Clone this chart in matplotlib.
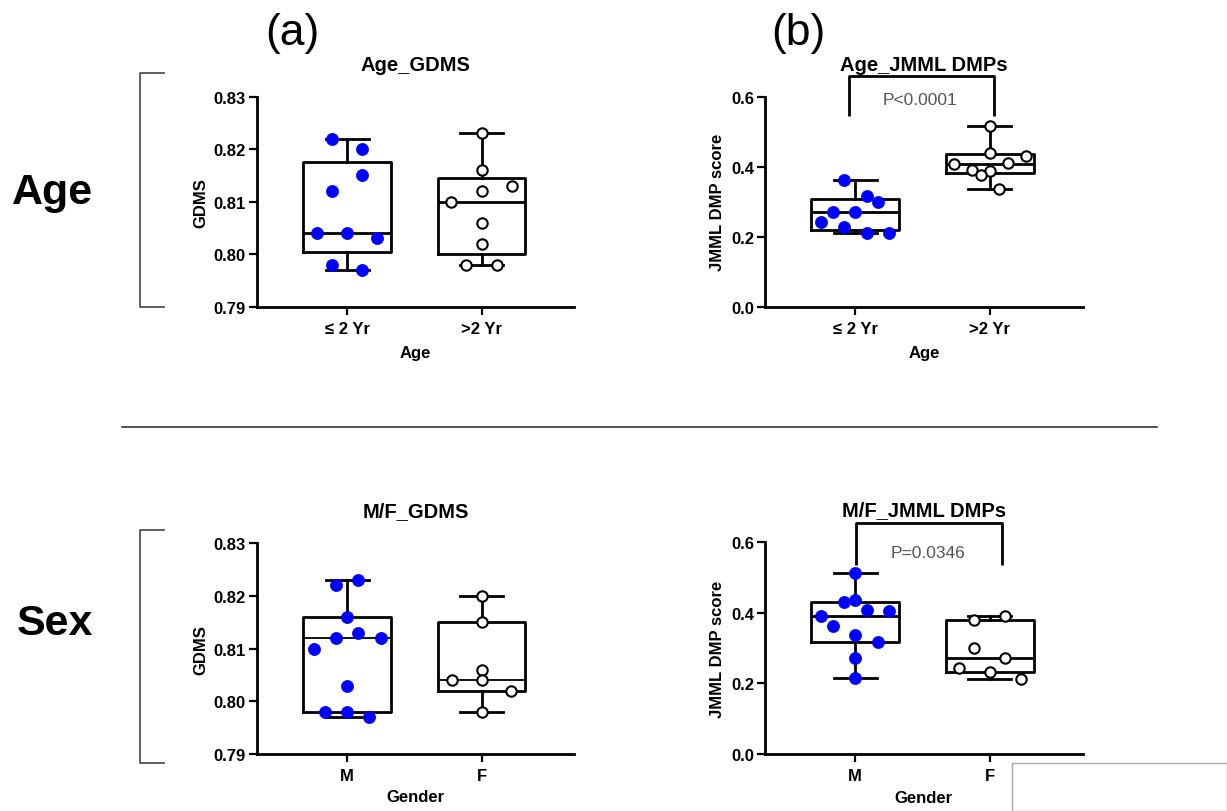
import matplotlib
matplotlib.use("Agg")
import matplotlib.pyplot as plt
from matplotlib.lines import Line2D
from matplotlib.patches import Rectangle
import numpy as np

plt.rcParams["font.family"] = ["Liberation Sans", "DejaVu Sans"]

AGE_GROUPS = ["\u2264 2 Yr", ">2 Yr"]
SEX_GROUPS = ["M", "F"]

# GDMS, split by age
GDMS_AGE_LE2 = [0.822, 0.820, 0.815, 0.812, 0.804, 0.804, 0.803, 0.798, 0.797]
GDMS_AGE_GT2 = [0.823, 0.816, 0.813, 0.812, 0.810, 0.806, 0.802, 0.798, 0.798]

# JMML DMP score, split by age
DMP_AGE_LE2 = [0.363, 0.317, 0.298, 0.270, 0.271, 0.242, 0.229, 0.212, 0.212]
DMP_AGE_GT2 = [0.515, 0.438, 0.432, 0.407, 0.410, 0.391, 0.389, 0.377, 0.336]

# GDMS, split by sex
GDMS_SEX_M = [0.823, 0.822, 0.816, 0.813, 0.812, 0.812, 0.810, 0.803, 0.798, 0.798, 0.797]
GDMS_SEX_F = [0.820, 0.815, 0.806, 0.804, 0.804, 0.802, 0.798]

# JMML DMP score, split by sex
DMP_SEX_M = [0.514, 0.437, 0.432, 0.407, 0.405, 0.391, 0.364, 0.336, 0.318, 0.271, 0.215]
DMP_SEX_F = [0.380, 0.390, 0.300, 0.271, 0.243, 0.232, 0.213]

P_AGE_DMP = "P<0.0001"
P_SEX_DMP = "P=0.0346"

# dot spread (slot index, slot width) - layout only, mirrors the prism scatter
SPREAD = {
    "gdms_age_le2": ([-1, 1, 1, -1, -2, 0, 2, -1, 1], 0.112),
    "gdms_age_gt2": ([0, 0, 2, 0, -2, 0, 0, -1, 1], 0.112),
    "dmp_age_le2": ([-1, 1, 2, -2, 0, -3, -1, 1, 3], 0.084),
    "dmp_age_gt2": ([0, 0, 4, -4, 2, -2, 0, -1, 1], 0.067),
    "gdms_sex_m": ([1, -1, 0, 1, -1, 3, -3, 0, -2, 0, 2], 0.083),
    "gdms_sex_f": ([0, 0, 0, -2, 0, 2, 0], 0.11),
    "dmp_sex_m": ([0, 0, -1, 1, 3, -3, -2, 0, 2, 0, 0], 0.084),
    "dmp_sex_f": ([-1, 1, -1, 1, -2, 0, 2], 0.115),
}

BLUE = "#0000ff"
W, H = 1227, 812


def px_axes(fig, left, top, right, bottom):
    return fig.add_axes([left / W, 1 - bottom / H, (right - left) / W, (bottom - top) / H])


def box_stats(vals):
    v = np.asarray(vals, dtype=float)
    q1, med, q3 = np.percentile(v, [25, 50, 75], method="weibull")
    return dict(med=med, q1=q1, q3=q3, whislo=v.min(), whishi=v.max(), fliers=[])


def draw_panel(ax, groups, spreads, labels, ylim, yticks, yfmt, title, xlabel, ylabel,
               ylab_x, xlab_y, med_lw=2.0):
    stats = [box_stats(g) for g in groups]
    line = dict(color="black", linewidth=2.0)
    ax.bxp(stats, positions=[0, 1], widths=0.65, capwidths=0.32, showfliers=False,
           boxprops=line, whiskerprops=line, capprops=line,
           medianprops=dict(color="black", linewidth=med_lw), manage_ticks=False)

    for i, (vals, (slots, step)) in enumerate(zip(groups, spreads)):
        x = i + np.asarray(slots) * step
        if i == 0:
            ax.scatter(x, vals, s=76, color=BLUE, edgecolors=BLUE, linewidths=0.5,
                       zorder=3, clip_on=False)
        else:
            ax.scatter(x, vals, s=56, color="white", edgecolors="black", linewidths=1.5,
                       zorder=3, clip_on=False)

    ax.set_xlim(-0.67, 1.69)
    ax.set_ylim(*ylim)
    ax.set_yticks(yticks)
    ax.set_yticklabels([yfmt.format(t) for t in yticks])
    ax.set_xticks([0, 1])
    ax.set_xticklabels(labels)

    for side in ["top", "right"]:
        ax.spines[side].set_visible(False)
    for side in ["left", "bottom"]:
        ax.spines[side].set_linewidth(2.0)

    ax.tick_params(axis="both", direction="out", length=6, width=1.6, labelsize=12)
    ax.tick_params(axis="y", pad=2)
    ax.tick_params(axis="x", pad=4)
    for lbl in ax.get_xticklabels() + ax.get_yticklabels():
        lbl.set_fontweight("bold")

    ax.set_title(title, fontsize=14.5, fontweight="bold", y=1.155, pad=0, va="center")
    ax.set_xlabel(xlabel, fontsize=12, fontweight="bold", va="center")
    ax.xaxis.set_label_coords(0.5, xlab_y)
    ax.set_ylabel(ylabel, fontsize=12, fontweight="bold", va="center")
    ax.yaxis.set_label_coords(ylab_x, 0.5)


def sig_bracket(ax, x0, x1, y_leg, y_top, text, ty, tx):
    ax.plot([x0, x0, x1, x1], [y_leg, y_top, y_top, y_leg], color="black",
            linewidth=2.0, clip_on=False, solid_capstyle="butt")
    ax.text(tx, ty, text, ha="center", va="center", fontsize=12.5, color="#555555")


def main():
    fig = plt.figure(figsize=(W / 100, H / 100), dpi=100)

    ax_a = px_axes(fig, 257, 97.7, 574.3, 307.7)
    ax_b = px_axes(fig, 765, 97.7, 1082.7, 307.7)
    ax_c = px_axes(fig, 257, 544.3, 574.3, 755)
    ax_d = px_axes(fig, 765, 543.3, 1082.7, 755)

    gdms_ticks = [0.79, 0.80, 0.81, 0.82, 0.83]
    dmp_ticks = [0.0, 0.2, 0.4, 0.6]

    draw_panel(ax_a, [GDMS_AGE_LE2, GDMS_AGE_GT2],
               [SPREAD["gdms_age_le2"], SPREAD["gdms_age_gt2"]], AGE_GROUPS,
               (0.79, 0.83), gdms_ticks, "{:.2f}", "Age_GDMS", "Age", "GDMS",
               -0.176, -0.22)
    draw_panel(ax_b, [DMP_AGE_LE2, DMP_AGE_GT2],
               [SPREAD["dmp_age_le2"], SPREAD["dmp_age_gt2"]], AGE_GROUPS,
               (0.0, 0.6), dmp_ticks, "{:.1f}", "Age_JMML DMPs", "Age", "JMML DMP score",
               -0.149, -0.22)
    draw_panel(ax_c, [GDMS_SEX_M, GDMS_SEX_F],
               [SPREAD["gdms_sex_m"], SPREAD["gdms_sex_f"]], SEX_GROUPS,
               (0.79, 0.83), gdms_ticks, "{:.2f}", "M/F_GDMS", "Gender", "GDMS",
               -0.176, -0.204, med_lw=1.3)
    draw_panel(ax_d, [DMP_SEX_M, DMP_SEX_F],
               [SPREAD["dmp_sex_m"], SPREAD["dmp_sex_f"]], SEX_GROUPS,
               (0.0, 0.6), dmp_ticks, "{:.1f}", "M/F_JMML DMPs", "Gender", "JMML DMP score",
               -0.149, -0.204)

    sig_bracket(ax_b, -0.048, 1.03, 0.544, 0.658, P_AGE_DMP, 0.593, 0.479)
    sig_bracket(ax_d, 0.007, 1.089, 0.536, 0.654, P_SEX_DMP, 0.572, 0.538)

    # panel letters and row headers
    fig.text(292 / W, 1 - 33 / H, "(a)", fontsize=32, ha="center", va="center")
    fig.text(798 / W, 1 - 33 / H, "(b)", fontsize=32, ha="center", va="center")
    fig.text(52 / W, 1 - 193 / H, "Age", fontsize=31, fontweight="bold",
             ha="center", va="center")
    fig.text(55 / W, 1 - 624 / H, "Sex", fontsize=31, fontweight="bold",
             ha="center", va="center")

    # row brackets
    for top, bot in [(74, 308), (531, 764)]:
        xs = np.array([164, 140, 140, 164]) / W
        ys = 1 - np.array([top, top, bot, bot]) / H
        fig.add_artist(Line2D(xs, ys, color="#444444", linewidth=1.2))

    # separator between rows
    fig.add_artist(Line2D(np.array([122, 1157]) / W, 1 - np.array([428, 428]) / H,
                          color="#333333", linewidth=1.2))

    # blank box in the lower right corner
    fig.add_artist(Rectangle((1012 / W, 0), (W - 1012) / W, (H - 764) / H,
                             facecolor="white", edgecolor="#aaaaaa", linewidth=1.0,
                             zorder=5))

    fig.savefig("out.png", dpi=100)
    plt.close(fig)


if __name__ == "__main__":
    main()
